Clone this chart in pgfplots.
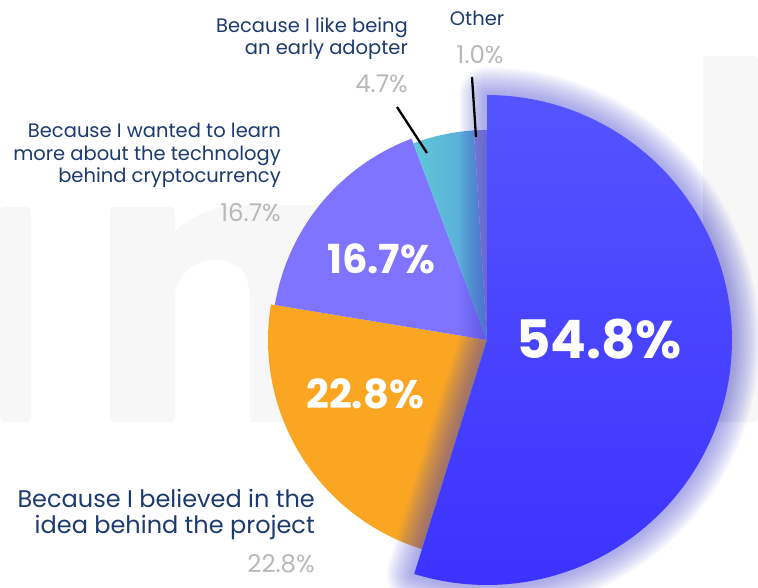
\documentclass[border=0pt]{standalone}
\usepackage{fontspec}
\setmainfont{Poppins}
\usepackage{pgfplots}
\pgfplotsset{compat=1.18}
\definecolor{navy}{HTML}{1B3A6E}
\definecolor{pgray}{HTML}{B8B8B8}
\definecolor{wm}{HTML}{F7F7F7}
\definecolor{bigtop}{HTML}{5454FF}
\definecolor{bigbot}{HTML}{3C32FF}
\definecolor{orng}{HTML}{FBA622}
\definecolor{purp}{HTML}{7F74FF}
\definecolor{tealL}{HTML}{5EC8D5}
\definecolor{tealR}{HTML}{5AA3DE}
\definecolor{othr}{HTML}{8C90DA}
\definecolor{glow}{HTML}{5050D0}
\begin{document}
\begin{tikzpicture}[every node/.style={inner sep=0pt}]
% shares (percent), clockwise from 12 o'clock
\def\vA{54.8}\def\vB{22.8}\def\vC{16.7}\def\vD{4.7}\def\vE{1.0}
\pgfmathsetmacro\aA{90}
\pgfmathsetmacro\aB{\aA-3.6*\vA}
\pgfmathsetmacro\aC{\aB-3.6*\vB}
\pgfmathsetmacro\aD{\aC-3.6*\vC}
\pgfmathsetmacro\aE{\aD-3.6*\vD}
\pgfmathsetmacro\aF{\aE-3.6*\vE}
\begin{axis}[name=ax,width=758pt,height=587pt,scale only axis,
  xmin=0,xmax=758,ymin=-587,ymax=0,hide axis,clip=false,
  samples=90,variable=\t]
% watermark
\fill[wm,rounded corners=4pt] (axis cs:0,-207) rectangle (axis cs:31,-422);
\fill[wm,rounded corners=4pt] (axis cs:110,-207) rectangle (axis cs:175,-422);
\fill[wm] (axis cs:174,-232) .. controls (axis cs:195,-212) and (axis cs:220,-205) .. (axis cs:250,-205)
  -- (axis cs:320,-205) -- (axis cs:320,-422) -- (axis cs:254,-422) -- (axis cs:250,-422)
  -- (axis cs:250,-300) .. controls (axis cs:250,-275) and (axis cs:240,-260) .. (axis cs:215,-260)
  .. controls (axis cs:195,-260) and (axis cs:180,-272) .. (axis cs:174,-295) -- cycle;
\fill[wm,rounded corners=4pt] (axis cs:703,-56) rectangle (axis cs:758,-422);
% small slices
\addplot[draw=none,fill=orng,domain=\aC:\aB] ({487+219*cos(\t)},{-340+219*sin(\t)}) -- (axis cs:487,-340) -- cycle;
\addplot[draw=none,fill=purp,domain=\aD:\aC] ({487+215*cos(\t)},{-340+215*sin(\t)}) -- (axis cs:487,-340) -- cycle;
\addplot[draw=none,left color=tealL,right color=tealR,domain=\aE:\aD] ({487+210*cos(\t)},{-340+210*sin(\t)}) -- (axis cs:487,-340) -- cycle;
\addplot[draw=none,fill=othr,domain=\aF:\aE] ({487+210*cos(\t)},{-340+210*sin(\t)}) -- (axis cs:487,-340) -- cycle;
% glow of the main slice
\pgfplotsinvokeforeach{2,4,...,56}{
\addplot[draw=glow,line width=#1pt,opacity=0.025,line join=round,domain=\aB:\aA] ({487+245*cos(\t)},{-340+245*sin(\t)}) -- (axis cs:487,-340) -- cycle;
}
% main slice
\addplot[draw=none,top color=bigtop,bottom color=bigbot,domain=\aB:\aA] ({487+245*cos(\t)},{-340+245*sin(\t)}) -- (axis cs:487,-340) -- cycle;
% leader lines
\addplot[black,line width=2.3pt] coordinates {(397,-107) (427,-153)};
\addplot[black,line width=2.3pt] coordinates {(472,-77) (476,-137)};
% inner labels
\node[anchor=base,text=white,font=\fontsize{53}{60}\selectfont\bfseries] at (axis cs:599,-358) {54.8\%};
\node[anchor=base,text=white,font=\fontsize{40}{46}\selectfont\bfseries] at (axis cs:365,-408) {22.8\%};
\node[anchor=base,text=white,font=\fontsize{40}{46}\selectfont\bfseries] at (axis cs:381,-274) {16.7\%};
% outer labels
\node[anchor=base east,text=navy,font=\fontsize{19.5}{22}\selectfont] at (axis cs:408,-33) {Because I like being};
\node[anchor=base east,text=navy,font=\fontsize{19.5}{22}\selectfont] at (axis cs:408,-55) {an early adopter};
\node[anchor=base east,text=pgray,font=\fontsize{24.5}{28}\selectfont] at (axis cs:408,-93) {4.7\%};
\node[anchor=base,text=navy,font=\fontsize{19.5}{22}\selectfont] at (axis cs:477,-26) {Other};
\node[anchor=base,text=pgray,font=\fontsize{24.5}{28}\selectfont] at (axis cs:480,-64) {1.0\%};
\node[anchor=base east,text=navy,font=\fontsize{19.5}{22}\selectfont] at (axis cs:281,-138) {Because I wanted to learn};
\node[anchor=base east,text=navy,font=\fontsize{19.5}{22}\selectfont] at (axis cs:281,-161) {more about the technology};
\node[anchor=base east,text=navy,font=\fontsize{19.5}{22}\selectfont] at (axis cs:281,-183) {behind cryptocurrency};
\node[anchor=base east,text=pgray,font=\fontsize{24.5}{28}\selectfont] at (axis cs:281,-222) {16.7\%};
\node[anchor=base east,text=navy,font=\fontsize{24}{28}\selectfont] at (axis cs:315,-507) {Because I believed in the};
\node[anchor=base east,text=navy,font=\fontsize{24}{28}\selectfont] at (axis cs:315,-533) {idea behind the project};
\node[anchor=base east,text=pgray,font=\fontsize{24.5}{28}\selectfont] at (axis cs:315,-572) {22.8\%};
\end{axis}
\pgfresetboundingbox
\path[use as bounding box] (ax.south west) rectangle (ax.north east);
\end{tikzpicture}
\end{document}
